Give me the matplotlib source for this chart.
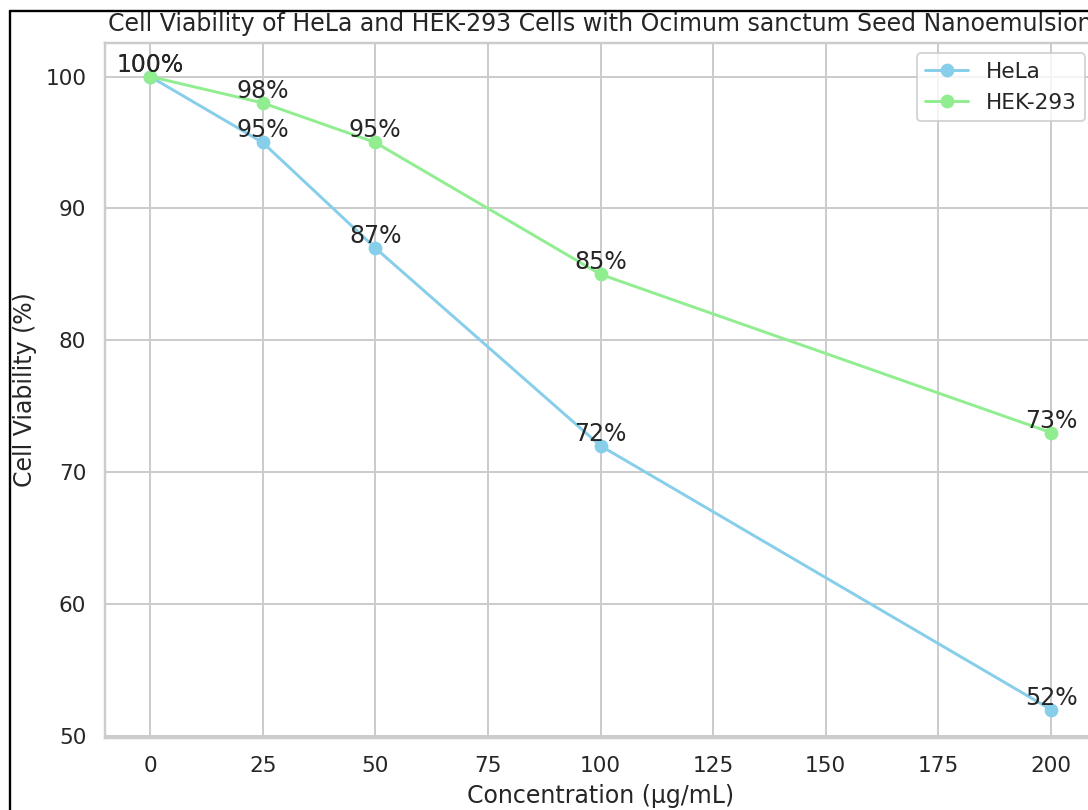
import matplotlib
matplotlib.use("Agg")
import matplotlib.pyplot as plt
import seaborn as sns
from matplotlib.lines import Line2D

concentrations = [0, 25, 50, 100, 200]
hela_viability = [100, 95, 87, 72, 52]
hek_viability = [100, 98, 95, 85, 73]
series_names = ["HeLa", "HEK-293"]
title = "Cell Viability of HeLa and HEK-293 Cells with Ocimum sanctum Seed Nanoemulsion"
xlabel = "Concentration (µg/mL)"
ylabel = "Cell Viability (%)"

sns.set_theme(style="whitegrid", context="notebook")
plt.rcParams['font.family'] = ['DejaVu Sans']

W, H = 1088, 810
DPI = 141.5
fig = plt.figure(figsize=(W / DPI, H / DPI), dpi=DPI)
ax = fig.add_axes([105 / W, (H - 737.5) / H, 991 / W, (737.5 - 42.5) / H])

ax.plot(concentrations, hela_viability, marker='o', color='skyblue', label=series_names[0])
ax.plot(concentrations, hek_viability, marker='o', color='lightgreen', label=series_names[1])

for x, y in zip(concentrations, hela_viability):
    ax.text(x, y, f"{y}%", ha='center', va='bottom')
for x, y in zip(concentrations, hek_viability):
    ax.text(x, y, f"{y}%", ha='center', va='bottom')

ax.set_title(title)
ax.set_xlabel(xlabel)
ax.set_ylabel(ylabel)
ax.set_xlim(-10, 210)
ax.set_ylim(49.88, 102.58)
ax.legend(loc='upper right')

# screenshot border lines
fig.add_artist(Line2D([9.5 / W, 9.5 / W], [0, 1 - 10.5 / H], transform=fig.transFigure, color='black', lw=1.2))
fig.add_artist(Line2D([9.5 / W, 1], [1 - 10.5 / H, 1 - 10.5 / H], transform=fig.transFigure, color='black', lw=1.2))

fig.savefig("out.png", dpi=DPI)
